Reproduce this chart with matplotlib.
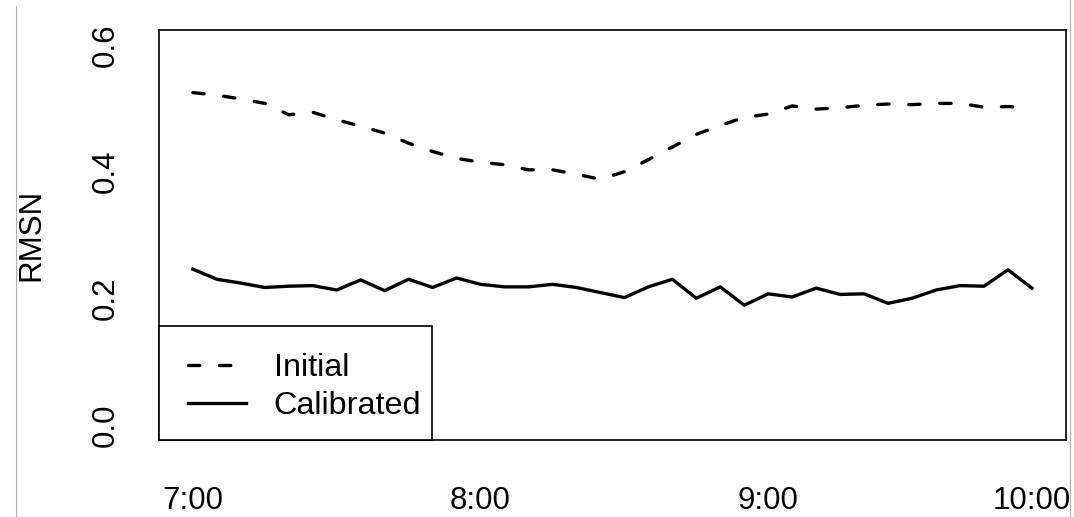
import matplotlib.pyplot as plt
from matplotlib.lines import Line2D
from matplotlib.patches import Rectangle

# time axis: one point every 5 minutes, labels on the hours
tick_idx = [0, 12, 24, 35]
tick_labels = ['7:00', '8:00', '9:00', '10:00']
y_ticks = [0.0, 0.2, 0.4, 0.6]

initial = [0.525, 0.521, 0.515, 0.508, 0.490, 0.494, 0.482, 0.472, 0.461,
           0.445, 0.432, 0.421, 0.415, 0.411, 0.403, 0.403, 0.396, 0.388,
           0.400, 0.419, 0.439, 0.459, 0.473, 0.486, 0.491, 0.504, 0.499,
           0.501, 0.505, 0.507, 0.506, 0.508, 0.508, 0.502, 0.503, 0.501]
calibrated = [0.246, 0.230, 0.224, 0.217, 0.219, 0.220, 0.213, 0.229, 0.212,
              0.230, 0.217, 0.232, 0.222, 0.218, 0.218, 0.222, 0.217, 0.209,
              0.201, 0.218, 0.230, 0.200, 0.218, 0.189, 0.207, 0.202, 0.216,
              0.206, 0.207, 0.192, 0.200, 0.213, 0.220, 0.219, 0.245, 0.216]

plt.rcParams['font.family'] = ['Liberation Sans', 'DejaVu Sans']
plt.rcParams['font.size'] = 22.5

fig = plt.figure(figsize=(10.74, 5.17), dpi=100)
ax = fig.add_axes([0.1483, 0.149, 0.8438, 0.793])

x = list(range(len(initial)))
ax.plot(x, initial, color='black', lw=2.4, dashes=(3.4, 5.9),
        dash_capstyle='round', label='Initial')
ax.plot(x, calibrated, color='black', lw=2.4, label='Calibrated')

# R-style 4% padding on both axes
ax.set_xlim(-0.04 * 35, 35 * 1.04)
ax.set_ylim(-0.024, 0.624)

ax.set_xticks(tick_idx)
ax.set_xticklabels(tick_labels)
ax.set_yticks(y_ticks)
ax.set_yticklabels([f'{v:.1f}' for v in y_ticks], rotation=90, va='center')
ax.tick_params(axis='both', length=0)
ax.tick_params(axis='x', pad=33)
ax.tick_params(axis='y', pad=28)

ax.set_ylabel('RMSN')
ax.yaxis.set_label_coords(-0.125, 0.5)

for s in ax.spines.values():
    s.set_linewidth(1.2)

# R-like legend box: square frame flush with the lower-left corner
ax.add_patch(Rectangle((0, 0), 0.301, 0.278, transform=ax.transAxes,
                       facecolor='white', edgecolor='black', lw=1.2,
                       zorder=3, clip_on=False))
leg = ax.legend(loc='upper left', bbox_to_anchor=(0.0317, 0.212),
                frameon=False, borderpad=0, borderaxespad=0,
                fontsize=23.3, handlelength=1.8, handletextpad=0.85,
                labelspacing=0.25)
leg.set_zorder(4)

# thin page edges visible in the original
fig.add_artist(Line2D([15.5 / 1074] * 2, [0, 1 - 6 / 517], color='#b0b0b0',
                      lw=0.8, transform=fig.transFigure))
fig.add_artist(Line2D([1070 / 1074] * 2, [0, 1], color='#b0b0b0',
                      lw=0.8, transform=fig.transFigure))

fig.savefig('out.png', dpi=100)
